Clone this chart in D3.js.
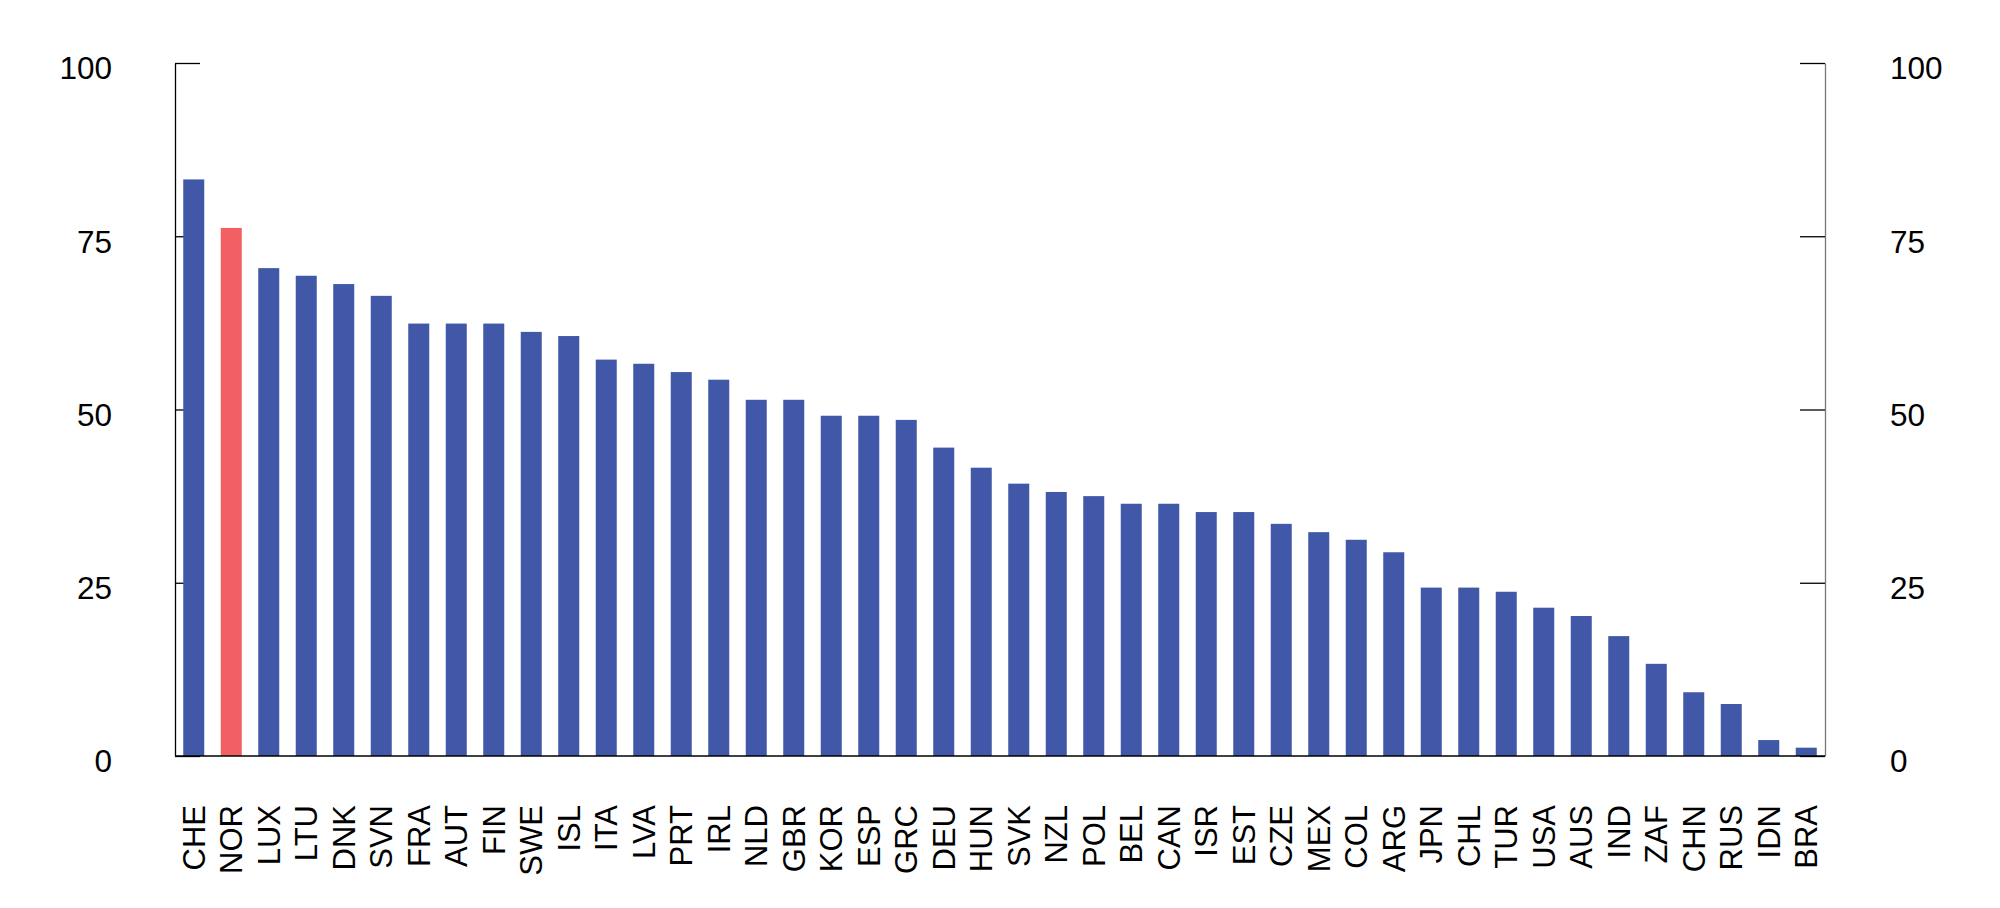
<!DOCTYPE html>
<html>
<head>
<meta charset="utf-8">
<script src="https://cdn.jsdelivr.net/npm/d3@7"></script>
<style>
  body { margin: 0; background: #fff; }
  svg text { font-family: "Liberation Sans", Arial, sans-serif; fill: #000; }
</style>
</head>
<body>
<div id="chart"></div>
<script>
// data
var countries = ["CHE", "NOR", "LUX", "LTU", "DNK", "SVN", "FRA", "AUT", "FIN", "SWE",
                 "ISL", "ITA", "LVA", "PRT", "IRL", "NLD", "GBR", "KOR", "ESP", "GRC",
                 "DEU", "HUN", "SVK", "NZL", "POL", "BEL", "CAN", "ISR", "EST", "CZE",
                 "MEX", "COL", "ARG", "JPN", "CHL", "TUR", "USA", "AUS", "IND", "ZAF",
                 "CHN", "RUS", "IDN", "BRA"];
var values = [83.2, 76.2, 70.4, 69.3, 68.1, 66.4, 62.4, 62.4, 62.4, 61.2,
              60.6, 57.2, 56.6, 55.4, 54.3, 51.4, 51.4, 49.1, 49.1, 48.5,
              44.5, 41.6, 39.3, 38.1, 37.5, 36.4, 36.4, 35.2, 35.2, 33.5,
              32.3, 31.2, 29.4, 24.3, 24.3, 23.7, 21.4, 20.2, 17.3, 13.3,
              9.2, 7.5, 2.3, 1.2];
var highlight = "NOR";
var yTicks = [0, 25, 50, 75, 100];

var width = 2000, height = 908;
// plot box (note: "top" is reserved on window, so prefix these)
var plotLeft = 175, plotRight = 1825, plotTop = 63, plotBottom = 756;

var svg = d3.select("#chart").append("svg")
    .attr("width", width)
    .attr("height", height);

var x = d3.scaleBand()
    .domain(countries)
    .range([plotLeft, plotRight])
    .paddingInner(0.44)
    .paddingOuter(0.22);

var y = d3.scaleLinear()
    .domain([0, 100])
    .range([plotBottom, plotTop]);

function styleYAxis(g, domainColor) {
    g.select(".domain").attr("stroke", domainColor).attr("stroke-width", 1.3);
    g.selectAll(".tick line").attr("stroke", "#000").attr("stroke-width", 1.3);
    g.selectAll("text")
        .attr("font-size", 31.5)
        .attr("font-family", null)
        .attr("dy", "0.5em");
}

// left axis, ticks pointing into the plot
var yLeft = d3.axisLeft(y)
    .tickValues(yTicks)
    .tickSize(-25)
    .tickSizeOuter(0)
    .tickPadding(63);
svg.append("g")
    .attr("transform", "translate(" + plotLeft + ",0)")
    .call(yLeft)
    .call(function(g){ styleYAxis(g, "#000"); });

// right axis
var yRight = d3.axisRight(y)
    .tickValues(yTicks)
    .tickSize(-25)
    .tickSizeOuter(0)
    .tickPadding(65);
svg.append("g")
    .attr("transform", "translate(" + plotRight + ",0)")
    .call(yRight)
    .call(function(g){ styleYAxis(g, "#777"); });

// bars
svg.selectAll(".bar")
    .data(countries)
    .enter().append("rect")
    .attr("class", "bar")
    .attr("x", function(d){ return x(d); })
    .attr("width", x.bandwidth())
    .attr("y", function(d, i){ return y(values[i]); })
    .attr("height", function(d, i){ return y(0) - y(values[i]); })
    .attr("fill", function(d){ return d === highlight ? "#f26064" : "#4157a7"; });

// x axis baseline and rotated labels
var xAxis = d3.axisBottom(x)
    .tickSize(0)
    .tickSizeOuter(0)
    .tickPadding(0);
svg.append("g")
    .attr("transform", "translate(0," + plotBottom + ")")
    .call(xAxis)
    .call(function(g){
        g.select(".domain").attr("stroke", "#000").attr("stroke-width", 1.5)
            .attr("d", "M" + plotLeft + ",0H" + plotRight);
        g.selectAll("text")
            .attr("font-size", 31)
            .attr("font-family", null)
            .attr("text-anchor", "end")
            .attr("transform", "translate(0,49) rotate(-90)")
            .attr("x", 0)
            .attr("y", 0)
            .attr("dy", "0.36em");
    });
</script>
</body>
</html>
